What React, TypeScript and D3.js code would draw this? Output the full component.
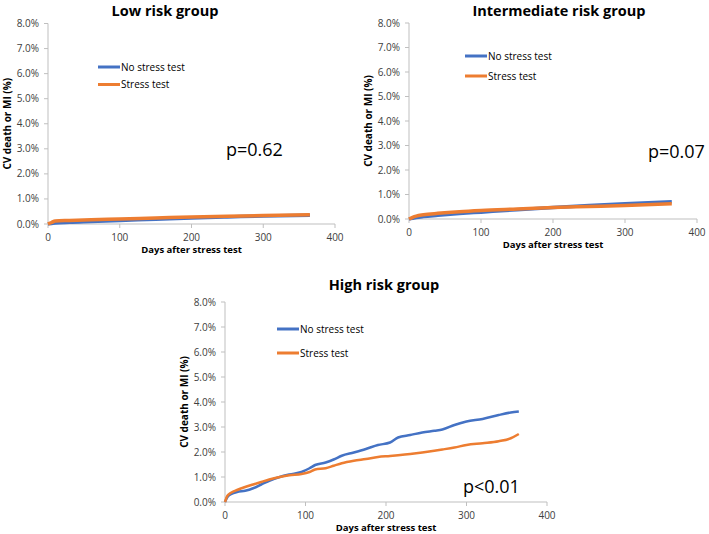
import React from "react";
import * as d3 from "d3";

const xTicks = [0, 100, 200, 300, 400];
const yTicks = [0, 0.01, 0.02, 0.03, 0.04, 0.05, 0.06, 0.07, 0.08];
const seriesNames = ["No stress test", "Stress test"];
const seriesColors = ["#4472C4", "#ED7D31"];

// days, cumulative incidence (%)
const lowDays = [0, 5, 10, 30, 60, 100, 150, 200, 250, 300, 365];
const lowNoStress = [0, 0.02, 0.04, 0.07, 0.1, 0.14, 0.19, 0.24, 0.28, 0.32, 0.35];
const lowStress = [0, 0.06, 0.12, 0.14, 0.17, 0.2, 0.24, 0.28, 0.31, 0.34, 0.37];

const intDays = [0, 5, 10, 20, 40, 70, 100, 150, 200, 250, 300, 365];
const intNoStress = [0, 0.03, 0.06, 0.1, 0.15, 0.22, 0.28, 0.38, 0.47, 0.55, 0.62, 0.7];
const intStress = [0, 0.07, 0.12, 0.17, 0.23, 0.3, 0.35, 0.41, 0.47, 0.51, 0.55, 0.62];

const highDays = [0, 3, 8, 15, 25, 35, 45, 55, 68, 80, 95, 105, 112, 125, 135, 145, 160, 175, 190, 205, 215, 230, 245, 260, 270, 285, 300, 320, 340, 355, 365];
const highNoStress = [0, 0.2, 0.32, 0.4, 0.45, 0.55, 0.7, 0.85, 1.0, 1.1, 1.2, 1.35, 1.48, 1.58, 1.7, 1.85, 1.98, 2.12, 2.28, 2.38, 2.58, 2.68, 2.78, 2.85, 2.9, 3.08, 3.22, 3.32, 3.48, 3.58, 3.62];
const highStress = [0, 0.25, 0.38, 0.48, 0.6, 0.7, 0.8, 0.9, 1.0, 1.07, 1.12, 1.2, 1.3, 1.35, 1.45, 1.55, 1.65, 1.72, 1.8, 1.84, 1.87, 1.92, 1.98, 2.05, 2.1, 2.18, 2.28, 2.35, 2.43, 2.55, 2.72];

const FONT = "'Open Sans', 'Liberation Sans', sans-serif";

type PanelProps = {
  title: string;
  pText: string;
  days: number[];
  a: number[];
  b: number[];
  x0: number; x1: number; y0: number; y1: number;
  titleX: number; titleY: number;
  yTitleX: number;
  legendX: number; legendY: number; legendGap: number;
  pX: number; pY: number;
  lw: number;
};

function Panel(p: PanelProps) {
  const x = d3.scaleLinear().domain([0, 400]).range([p.x0, p.x1]);
  const y = d3.scaleLinear().domain([0, 0.08]).range([p.y0, p.y1]);
  const line = d3
    .line<[number, number]>()
    .x((d) => x(d[0]))
    .y((d) => y(d[1] / 100))
    .curve(d3.curveMonotoneX);
  const series = [p.a, p.b].map((vals) => p.days.map((d, i) => [d, vals[i]] as [number, number]));
  const axisColor = "#bfbfbf";
  const fmt = d3.format(".1%");
  return (
    <g>
      <text x={p.titleX} y={p.titleY} textAnchor="middle" fontFamily={FONT} fontWeight="bold" fontSize={14.5} fill="#000">
        {p.title}
      </text>
      <line x1={p.x0} x2={p.x0} y1={p.y1} y2={p.y0} stroke={axisColor} />
      <line x1={p.x0} x2={p.x1} y1={p.y0} y2={p.y0} stroke={axisColor} />
      {yTicks.map((t) => (
        <g key={"y" + t}>
          <line x1={p.x0 - 4} x2={p.x0} y1={y(t)} y2={y(t)} stroke={axisColor} />
          <text x={p.x0 - 9} y={y(t)} dy="0.35em" textAnchor="end" fontFamily={FONT} fontSize={10} fill="#404040">
            {fmt(t)}
          </text>
        </g>
      ))}
      {xTicks.map((t) => (
        <g key={"x" + t}>
          <line x1={x(t)} x2={x(t)} y1={p.y0} y2={p.y0 + 4} stroke={axisColor} />
          <text x={x(t)} y={p.y0 + 13} dy="0.35em" textAnchor="middle" fontFamily={FONT} fontSize={10} fill="#404040">
            {t}
          </text>
        </g>
      ))}
      <text x={(p.x0 + p.x1) / 2} y={p.y0 + 26} dy="0.35em" textAnchor="middle" fontFamily={FONT} fontWeight="bold" fontSize={9.5} fill="#000">
        Days after stress test
      </text>
      <text
        transform={`translate(${p.yTitleX},${(p.y0 + p.y1) / 2}) rotate(-90)`}
        dy="0.35em"
        textAnchor="middle"
        fontFamily={FONT}
        fontWeight="bold"
        fontSize={10}
        fill="#000"
      >
        CV death or MI (%)
      </text>
      {series.map((s, i) => (
        <path key={"s" + i} d={line(s) || ""} fill="none" stroke={seriesColors[i]} strokeWidth={p.lw} />
      ))}
      {seriesNames.map((n, i) => (
        <g key={"l" + i}>
          <line
            x1={p.legendX}
            x2={p.legendX + 22}
            y1={p.legendY + i * p.legendGap}
            y2={p.legendY + i * p.legendGap}
            stroke={seriesColors[i]}
            strokeWidth={3}
          />
          <text x={p.legendX + 23} y={p.legendY + i * p.legendGap} dy="0.35em" fontFamily={FONT} fontSize={10} fill="#000">
            {n}
          </text>
        </g>
      ))}
      <text x={p.pX} y={p.pY} dy="0.35em" fontFamily={FONT} fontSize={18} fill="#000">
        {p.pText}
      </text>
    </g>
  );
}

export default function App() {
  return (
    <svg width={709} height={534} style={{ position: "absolute", left: 0, top: 0, background: "#fff" }}>
      <rect width={709} height={534} fill="#fff" />
      <Panel
        title="Low risk group"
        pText="p=0.62"
        days={lowDays}
        a={lowNoStress}
        b={lowStress}
        x0={48} x1={335} y0={224} y1={23.5}
        titleX={165} titleY={16}
        yTitleX={7}
        legendX={98} legendY={67} legendGap={17.5}
        pX={226} pY={150}
        lw={3.5}
      />
      <Panel
        title="Intermediate risk group"
        pText="p=0.07"
        days={intDays}
        a={intNoStress}
        b={intStress}
        x0={409} x1={697} y0={219} y1={23}
        titleX={559} titleY={16}
        yTitleX={368}
        legendX={465} legendY={56} legendGap={20}
        pX={648} pY={152}
        lw={3.5}
      />
      <Panel
        title="High risk group"
        pText="p<0.01"
        days={highDays}
        a={highNoStress}
        b={highStress}
        x0={225} x1={547} y0={502} y1={302}
        titleX={384} titleY={290}
        yTitleX={184}
        legendX={277} legendY={329} legendGap={24}
        pX={463} pY={487}
        lw={2.5}
      />
    </svg>
  );
}
